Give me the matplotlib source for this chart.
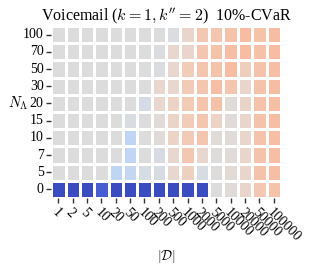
import numpy as np
import pandas as pd
import matplotlib
matplotlib.use('Agg')
import matplotlib.pyplot as plt
import seaborn as sns

plt.rcParams['font.family'] = ['Liberation Serif', 'DejaVu Serif']
plt.rcParams['mathtext.fontset'] = 'cm'

# dataset sizes (columns) and N_Lambda values (rows, top to bottom)
dataset_sizes = ['1', '2', '5', '10', '20', '50', '100', '200', '500', '1000',
                 '2000', '5000', '10000', '20000', '50000', '100000']
n_lambda = ['100', '70', '50', '30', '20', '15', '10', '7', '5', '0']

# relative CVaR difference (centred colour scale)
row_100 = [0, 0, 0, 0, 0, 0, 0, 0, -0.02, 0.10, 0.23, 0.24, 0.26, 0.31, 0.26, 0.30]
row_70 = [0, 0, 0, 0, 0, 0, 0, -0.02, 0.08, 0.10, 0.24, 0.26, 0.29, 0.31, 0.27, 0.31]
row_50 = [0, 0, 0, 0, 0, 0, 0, -0.02, 0.08, 0.19, 0.24, 0.26, 0.31, 0.17, 0.26, 0.29]
row_30 = [0, 0, 0, 0, 0, 0, 0, 0.08, 0.08, 0.20, 0.24, 0.29, 0.24, 0.10, 0.26, 0.30]
row_20 = [0, 0, 0, 0, 0, 0, -0.06, 0.08, 0.13, 0.20, 0.25, 0.27, 0.03, 0.11, 0.26, 0.29]
row_15 = [0, 0, 0, 0, 0, -0.03, 0, 0.03, 0.11, 0.19, 0.24, 0.13, 0.03, 0.10, 0.26, 0.29]
row_10 = [0, 0, 0, 0, 0, -0.20, 0, 0.03, 0.12, 0.21, 0.24, 0.02, 0.03, 0.10, 0.26, 0.29]
row_7 = [0, 0, 0, 0, 0, -0.18, 0, -0.04, 0.08, 0.22, 0.08, 0.01, 0.03, 0.10, 0.26, 0.29]
row_5 = [0, 0, 0, 0, -0.20, -0.17, -0.05, -0.04, 0.08, 0.15, -0.04, 0.01, 0.04, 0.10, 0.26, 0.29]
row_0 = [-1, -1, -1, -0.92, -1, -1, -1, -1, -1, -1, -1, 0, 0.03, 0.10, 0.23, 0.26]

values = pd.DataFrame([row_100, row_70, row_50, row_30, row_20, row_15,
                       row_10, row_7, row_5, row_0],
                      index=n_lambda, columns=dataset_sizes)

fig = plt.figure(figsize=(3.1, 2.69), dpi=100)
ax = fig.add_axes([0.165, 0.264, 0.741, 0.639])
sns.heatmap(values, ax=ax, cmap='coolwarm', vmin=-1, vmax=1, cbar=False,
            linewidths=2, linecolor='white', square=False,
            xticklabels=True, yticklabels=True)

ax.tick_params(axis='both', length=3.5, width=1, color='#333333', labelsize=10, pad=2)
ax.set_yticklabels(n_lambda, rotation=0)
ax.set_xticklabels(dataset_sizes, rotation=-45, ha='left', rotation_mode='anchor')

ax.set_title(r'Voicemail ($k=1, k^{\prime\prime}=2$)  10%-CVaR', fontsize=11.5, pad=4)
ax.set_ylabel(r'$N_\Lambda$', rotation=0, fontsize=10.5, ha='right', va='center')
ax.yaxis.set_label_coords(-0.1, 0.55)
ax.set_xlabel(r'$|\mathcal{D}|$', fontsize=10)
ax.xaxis.set_label_coords(0.5, -0.29)

fig.savefig('out.png', dpi=100)
